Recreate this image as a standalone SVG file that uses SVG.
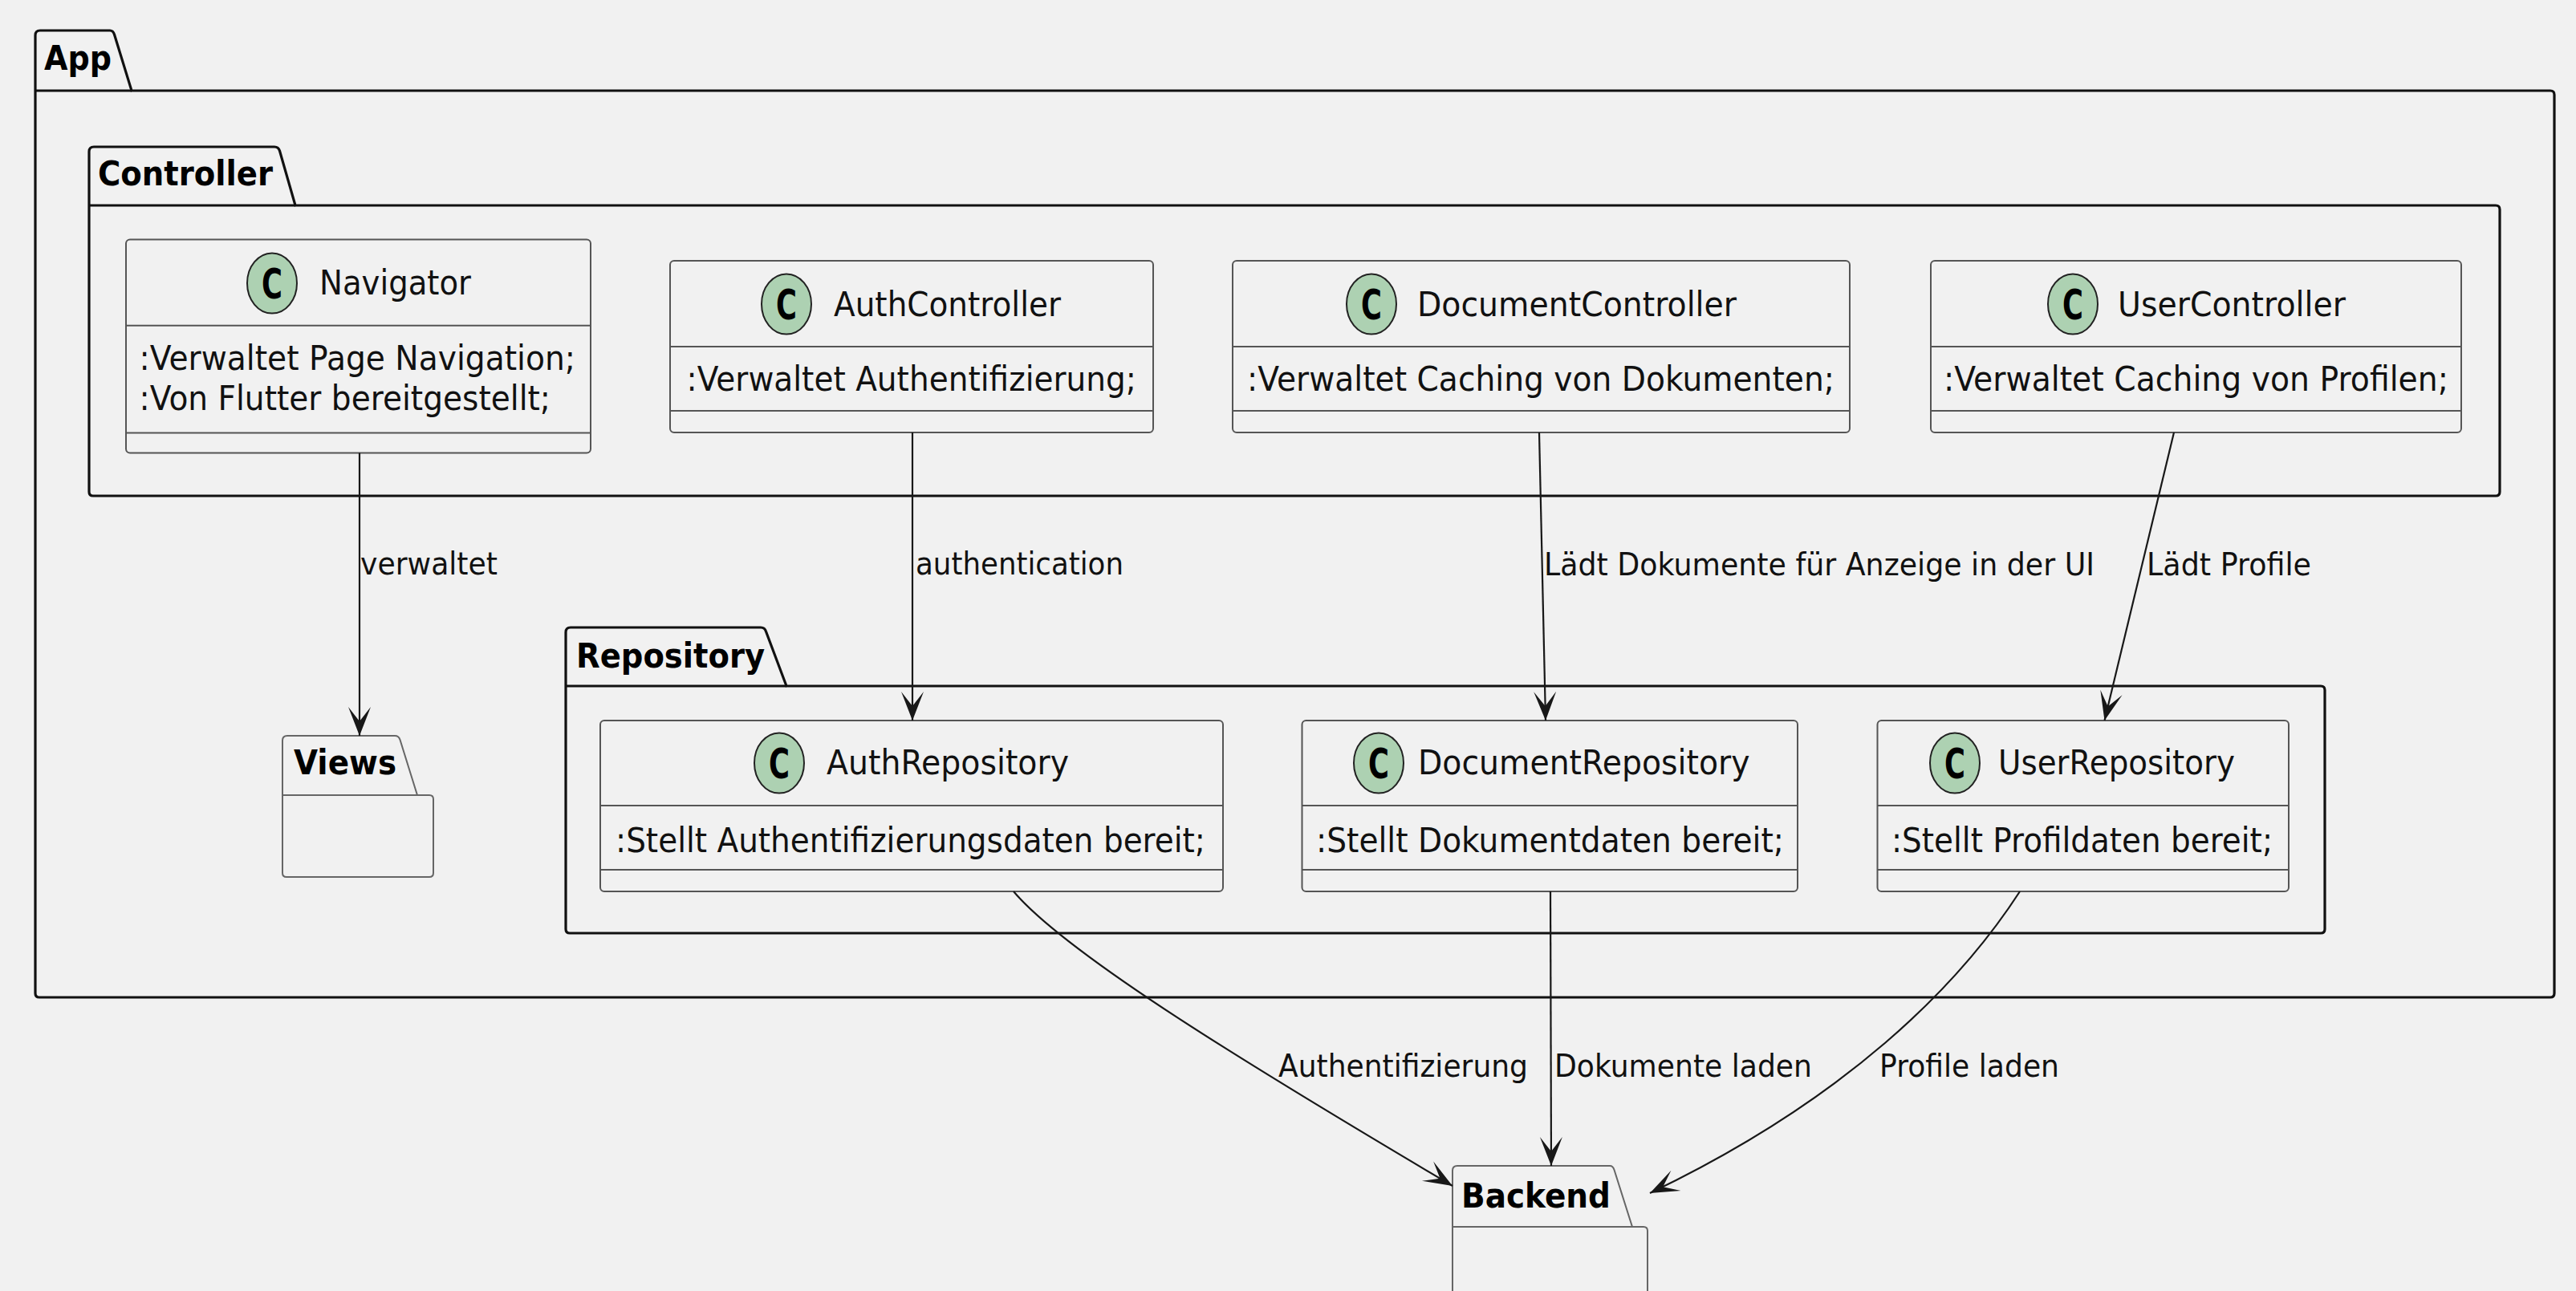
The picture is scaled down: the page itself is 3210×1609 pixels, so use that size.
<svg xmlns="http://www.w3.org/2000/svg" width="3210" height="1609" viewBox="0 0 3210 1609">
<style>
.pkg{fill:#F1F1F1;stroke:#111;stroke-width:3.2}
.pkgl{fill:none;stroke:#111;stroke-width:3.2}
.pkg2{fill:#F1F1F1;stroke:#666;stroke-width:2}
.pkg2l{fill:none;stroke:#666;stroke-width:2}
.box{fill:#F1F1F1;stroke:#555;stroke-width:2}
.div{stroke:#555;stroke-width:2}
.circ{fill:#ADD1B2;stroke:#222;stroke-width:2}
.ct{font-family:"DejaVu Sans",sans-serif;font-weight:bold;font-size:52px;fill:#000}
.pt{font-family:"DejaVu Sans",sans-serif;font-weight:bold;font-size:42px;fill:#000}
.nt{font-family:"DejaVu Sans",sans-serif;font-size:42px;fill:#111}
.lt{font-family:"DejaVu Sans",sans-serif;font-size:39px;fill:#111}
.edge{fill:none;stroke:#181818;stroke-width:2.2}
</style>
<defs>
<marker id="ah" markerUnits="userSpaceOnUse" viewBox="0 0 40 30" markerWidth="40" markerHeight="30" refX="36" refY="15" orient="auto">
<path d="M0,1 L36,15 L0,29 L18,15 Z" fill="#181818"/>
</marker>
</defs>
<rect x="0" y="0" width="3210" height="1609" fill="#F1F1F1"/>

<g id="pkg-App">
<path class="pkg" d="M44,113 L44,44 Q44,38 50,38 L137,38 Q141,38 142.5,43 L164,113 L3178,113 Q3183,113 3183,118 L3183,1238 Q3183,1243 3178,1243 L49,1243 Q44,1243 44,1238 Z"/>
<line class="pkgl" x1="44" y1="113" x2="164" y2="113"/>
<text class="pt" x="55" y="87" textLength="84" lengthAdjust="spacingAndGlyphs">App</text>
</g>

<g id="pkg-Controller">
<path class="pkg" d="M111,256 L111,189 Q111,183 117,183 L342,183 Q347,183 348.5,188 L368,256 L3110,256 Q3115,256 3115,261 L3115,613 Q3115,618 3110,618 L116,618 Q111,618 111,613 Z"/>
<line class="pkgl" x1="111" y1="256" x2="368" y2="256"/>
<text class="pt" x="122" y="231" textLength="218" lengthAdjust="spacingAndGlyphs">Controller</text>
</g>

<g id="pkg-Repository">
<path class="pkg" d="M705,855 L705,788 Q705,782 711,782 L948,782 Q953,782 954.5,787 L980,855 L2892,855 Q2897,855 2897,860 L2897,1158 Q2897,1163 2892,1163 L710,1163 Q705,1163 705,1158 Z"/>
<line class="pkgl" x1="705" y1="855" x2="980" y2="855"/>
<text class="pt" x="718" y="832" textLength="235" lengthAdjust="spacingAndGlyphs">Repository</text>
</g>

<g id="pkg-Views">
<path class="pkg2" d="M352,991 L352,923 Q352,917 358,917 L492,917 Q497,917 498.5,922 L520,991 L535,991 Q540,991 540,996 L540,1088 Q540,1093 535,1093 L357,1093 Q352,1093 352,1088 Z"/>
<line class="pkg2l" x1="352" y1="991" x2="520" y2="991"/>
<text class="pt" x="366" y="965" textLength="128" lengthAdjust="spacingAndGlyphs">Views</text>
</g>

<g id="pkg-Backend">
<path class="pkg2" d="M1810,1529 L1810,1459 Q1810,1453 1816,1453 L2006,1453 Q2010,1453 2011.5,1458 L2034,1529 L2048,1529 Q2053,1529 2053,1534 L2053,1700 L1810,1700 Z"/>
<line class="pkg2l" x1="1810" y1="1529" x2="2034" y2="1529"/>
<text class="pt" x="1821" y="1505" textLength="186" lengthAdjust="spacingAndGlyphs">Backend</text>
</g>

<g id="Navigator">
<rect class="box" x="157" y="298.5" width="579" height="266" rx="5"/>
<line class="div" x1="157" y1="405.7" x2="736" y2="405.7"/>
<line class="div" x1="157" y1="539.6" x2="736" y2="539.6"/>
<ellipse class="circ" cx="339" cy="353" rx="31" ry="37.5"/>
<text class="ct" x="339" y="372" text-anchor="middle" textLength="26" lengthAdjust="spacingAndGlyphs">C</text>
<text class="nt" x="398" y="367.4" textLength="189" lengthAdjust="spacingAndGlyphs">Navigator</text>
<text class="nt" x="173.5" y="461" textLength="543.5" lengthAdjust="spacingAndGlyphs">:Verwaltet Page Navigation;</text>
<text class="nt" x="173.5" y="511" textLength="512.5" lengthAdjust="spacingAndGlyphs">:Von Flutter bereitgestellt;</text>
</g>

<g id="AuthController">
<rect class="box" x="835" y="325" width="602" height="214" rx="5"/>
<line class="div" x1="835" y1="432" x2="1437" y2="432"/>
<line class="div" x1="835" y1="512" x2="1437" y2="512"/>
<ellipse class="circ" cx="980" cy="379" rx="31" ry="37.5"/>
<text class="ct" x="980" y="398" text-anchor="middle" textLength="26" lengthAdjust="spacingAndGlyphs">C</text>
<text class="nt" x="1039" y="394" textLength="283" lengthAdjust="spacingAndGlyphs">AuthController</text>
<text class="nt" x="855.5" y="487" textLength="560.5" lengthAdjust="spacingAndGlyphs">:Verwaltet Authentifizierung;</text>
</g>

<g id="DocumentController">
<rect class="box" x="1536" y="325" width="769" height="214" rx="5"/>
<line class="div" x1="1536" y1="432" x2="2305" y2="432"/>
<line class="div" x1="1536" y1="512" x2="2305" y2="512"/>
<ellipse class="circ" cx="1709" cy="379" rx="31" ry="37.5"/>
<text class="ct" x="1709" y="398" text-anchor="middle" textLength="26" lengthAdjust="spacingAndGlyphs">C</text>
<text class="nt" x="1766" y="394" textLength="398" lengthAdjust="spacingAndGlyphs">DocumentController</text>
<text class="nt" x="1554" y="487" textLength="732" lengthAdjust="spacingAndGlyphs">:Verwaltet Caching von Dokumenten;</text>
</g>

<g id="UserController">
<rect class="box" x="2406" y="325" width="661" height="214" rx="5"/>
<line class="div" x1="2406" y1="432" x2="3067" y2="432"/>
<line class="div" x1="2406" y1="512" x2="3067" y2="512"/>
<ellipse class="circ" cx="2583" cy="379" rx="31" ry="37.5"/>
<text class="ct" x="2583" y="398" text-anchor="middle" textLength="26" lengthAdjust="spacingAndGlyphs">C</text>
<text class="nt" x="2639" y="394" textLength="284" lengthAdjust="spacingAndGlyphs">UserController</text>
<text class="nt" x="2422" y="487" textLength="629" lengthAdjust="spacingAndGlyphs">:Verwaltet Caching von Profilen;</text>
</g>

<g id="AuthRepository">
<rect class="box" x="748" y="898" width="776" height="213" rx="5"/>
<line class="div" x1="748" y1="1004" x2="1524" y2="1004"/>
<line class="div" x1="748" y1="1084" x2="1524" y2="1084"/>
<ellipse class="circ" cx="971" cy="951" rx="31" ry="37.5"/>
<text class="ct" x="971" y="970" text-anchor="middle" textLength="26" lengthAdjust="spacingAndGlyphs">C</text>
<text class="nt" x="1030" y="965" textLength="302" lengthAdjust="spacingAndGlyphs">AuthRepository</text>
<text class="nt" x="767" y="1062" textLength="735" lengthAdjust="spacingAndGlyphs">:Stellt Authentifizierungsdaten bereit;</text>
</g>

<g id="DocumentRepository">
<rect class="box" x="1622.5" y="898" width="617.5" height="213" rx="5"/>
<line class="div" x1="1622.5" y1="1004" x2="2240" y2="1004"/>
<line class="div" x1="1622.5" y1="1084" x2="2240" y2="1084"/>
<ellipse class="circ" cx="1718" cy="951" rx="31" ry="37.5"/>
<text class="ct" x="1718" y="970" text-anchor="middle" textLength="26" lengthAdjust="spacingAndGlyphs">C</text>
<text class="nt" x="1767" y="965" textLength="413.5" lengthAdjust="spacingAndGlyphs">DocumentRepository</text>
<text class="nt" x="1640" y="1062" textLength="583" lengthAdjust="spacingAndGlyphs">:Stellt Dokumentdaten bereit;</text>
</g>

<g id="UserRepository">
<rect class="box" x="2339.5" y="898" width="512.5" height="213" rx="5"/>
<line class="div" x1="2339.5" y1="1004" x2="2852" y2="1004"/>
<line class="div" x1="2339.5" y1="1084" x2="2852" y2="1084"/>
<ellipse class="circ" cx="2436" cy="951" rx="31" ry="37.5"/>
<text class="ct" x="2436" y="970" text-anchor="middle" textLength="26" lengthAdjust="spacingAndGlyphs">C</text>
<text class="nt" x="2490" y="965" textLength="295" lengthAdjust="spacingAndGlyphs">UserRepository</text>
<text class="nt" x="2357" y="1062" textLength="475" lengthAdjust="spacingAndGlyphs">:Stellt Profildaten bereit;</text>
</g>

<g id="connectors">
<path class="edge" d="M448,564.5 L448,917" marker-end="url(#ah)"/>
<text class="lt" x="449" y="716" textLength="171" lengthAdjust="spacingAndGlyphs">verwaltet</text>
<path class="edge" d="M1137,539 L1137,898" marker-end="url(#ah)"/>
<text class="lt" x="1141" y="716" textLength="259" lengthAdjust="spacingAndGlyphs">authentication</text>
<path class="edge" d="M1918,539 L1926,898" marker-end="url(#ah)"/>
<text class="lt" x="1924" y="717" textLength="686" lengthAdjust="spacingAndGlyphs">Lädt Dokumente für Anzeige in der UI</text>
<path class="edge" d="M2709,539 L2622.5,898" marker-end="url(#ah)"/>
<text class="lt" x="2675" y="717" textLength="205" lengthAdjust="spacingAndGlyphs">Lädt Profile</text>
<path class="edge" d="M1263,1111 C1330,1190 1560,1330 1810,1478" marker-end="url(#ah)"/>
<text class="lt" x="1593" y="1342" textLength="311" lengthAdjust="spacingAndGlyphs">Authentifizierung</text>
<path class="edge" d="M1932,1111 L1933,1453" marker-end="url(#ah)"/>
<text class="lt" x="1937" y="1342" textLength="321" lengthAdjust="spacingAndGlyphs">Dokumente laden</text>
<path class="edge" d="M2517,1111 C2440,1230 2300,1370 2056,1487" marker-end="url(#ah)"/>
<text class="lt" x="2342" y="1342" textLength="224" lengthAdjust="spacingAndGlyphs">Profile laden</text>
</g>
</svg>
